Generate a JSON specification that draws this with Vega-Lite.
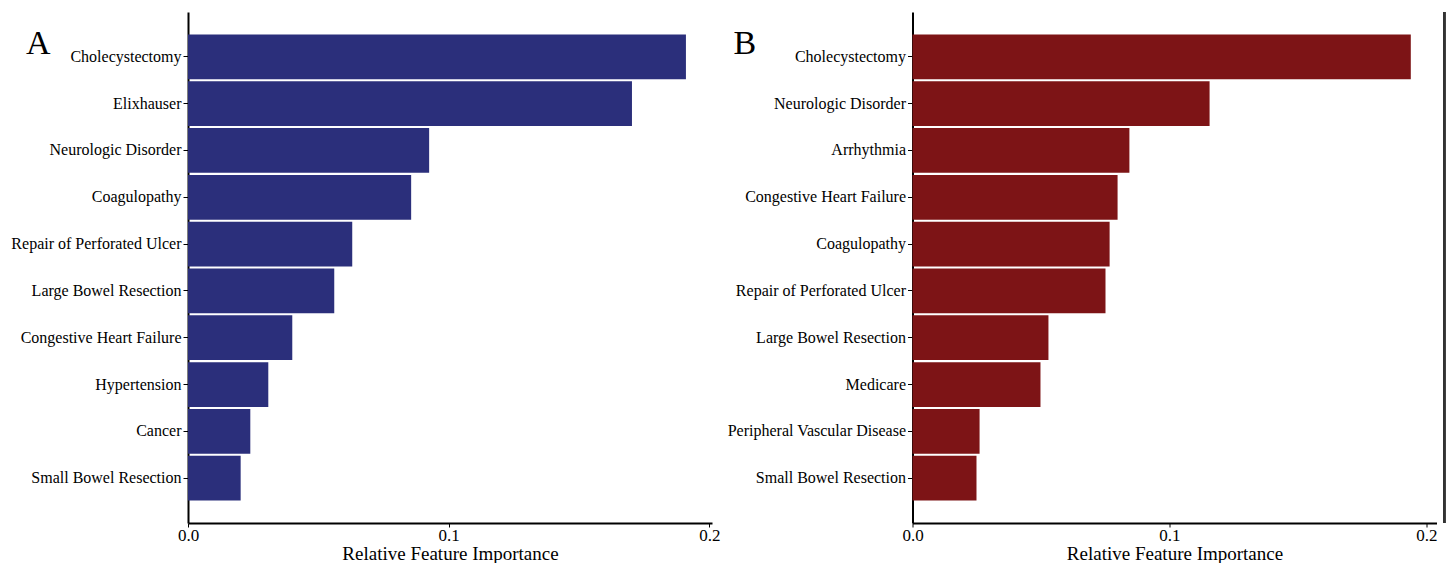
{
  "$schema": "https://vega.github.io/schema/vega-lite/v6.json",
  "background": "white",
  "padding": {"left": 10, "top": 11, "right": 0, "bottom": 0},
  "bounds": "flush",
  "spacing": 200.5,
  "config": {
    "font": "Liberation Serif",
    "view": {"stroke": null},
    "axis": {
      "grid": false,
      "domainColor": "black",
      "domainWidth": 2,
      "tickColor": "black",
      "tickWidth": 1,
      "tickSize": 4,
      "labelColor": "black",
      "labelFont": "Liberation Serif",
      "labelFontSize": 16,
      "titleFont": "Liberation Serif",
      "titleFontSize": 19,
      "titleFontWeight": "normal",
      "titleColor": "black"
    }
  },
  "datasets": {
    "a": [
      {"feature": "Cholecystectomy", "importance": 0.191},
      {"feature": "Elixhauser", "importance": 0.1703},
      {"feature": "Neurologic Disorder", "importance": 0.0925},
      {"feature": "Coagulopathy", "importance": 0.0856},
      {"feature": "Repair of Perforated Ulcer", "importance": 0.063},
      {"feature": "Large Bowel Resection", "importance": 0.0561},
      {"feature": "Congestive Heart Failure", "importance": 0.04},
      {"feature": "Hypertension", "importance": 0.0308},
      {"feature": "Cancer", "importance": 0.0239},
      {"feature": "Small Bowel Resection", "importance": 0.0202}
    ],
    "b": [
      {"feature": "Cholecystectomy", "importance": 0.1939},
      {"feature": "Neurologic Disorder", "importance": 0.1156},
      {"feature": "Arrhythmia", "importance": 0.0844},
      {"feature": "Congestive Heart Failure", "importance": 0.0798},
      {"feature": "Coagulopathy", "importance": 0.0767},
      {"feature": "Repair of Perforated Ulcer", "importance": 0.0751},
      {"feature": "Large Bowel Resection", "importance": 0.0529},
      {"feature": "Medicare", "importance": 0.0498},
      {"feature": "Peripheral Vascular Disease", "importance": 0.0261},
      {"feature": "Small Bowel Resection", "importance": 0.0249}
    ]
  },
  "hconcat": [
    {
      "width": 524,
      "height": 511,
      "data": {"name": "a"},
      "mark": {"type": "bar", "color": "#2b2f7b"},
      "encoding": {
        "y": {
          "field": "feature",
          "type": "nominal",
          "sort": null,
          "scale": {"paddingInner": 0.045, "paddingOuter": 0.48},
          "axis": {
            "title": "A",
            "titleAngle": 0,
            "titleFontSize": 34,
            "titleAlign": "left",
            "titleBaseline": "alphabetic",
            "titleX": -162.5,
            "titleY": 41,
            "tickSize": 5,
            "labelPadding": 2
          }
        },
        "x": {
          "field": "importance",
          "type": "quantitative",
          "scale": {"domain": [0, 0.201], "nice": false},
          "axis": {"values": [0, 0.1, 0.2], "format": ".1f", "title": "Relative Feature Importance", "labelFontSize": 17, "labelFlush": false, "labelPadding": 0, "titlePadding": 1}
        }
      }
    },
    {
      "width": 524,
      "height": 511,
      "data": {"name": "b"},
      "layer": [
        {
          "mark": {"type": "bar", "color": "#7d1416"},
          "encoding": {
            "y": {
              "field": "feature",
              "type": "nominal",
              "sort": null,
              "scale": {"paddingInner": 0.045, "paddingOuter": 0.48},
              "axis": {
                "title": "B",
                "titleAngle": 0,
                "titleFontSize": 34,
                "titleAlign": "left",
                "titleBaseline": "alphabetic",
                "titleX": -179.5,
                "titleY": 41,
                "tickSize": 5,
                "labelPadding": 2
              }
            },
            "x": {
              "field": "importance",
              "type": "quantitative",
              "scale": {"domain": [0, 0.2039], "nice": false},
              "axis": {"values": [0, 0.1, 0.2], "format": ".1f", "title": "Relative Feature Importance", "labelFontSize": 17, "labelFlush": false, "labelPadding": 0, "titlePadding": 1}
            }
          }
        },
        {
          "mark": {"type": "rule", "color": "#333333", "strokeWidth": 2},
          "encoding": {
            "x": {"datum": 0.2069, "type": "quantitative"}
          }
        }
      ]
    }
  ]
}
